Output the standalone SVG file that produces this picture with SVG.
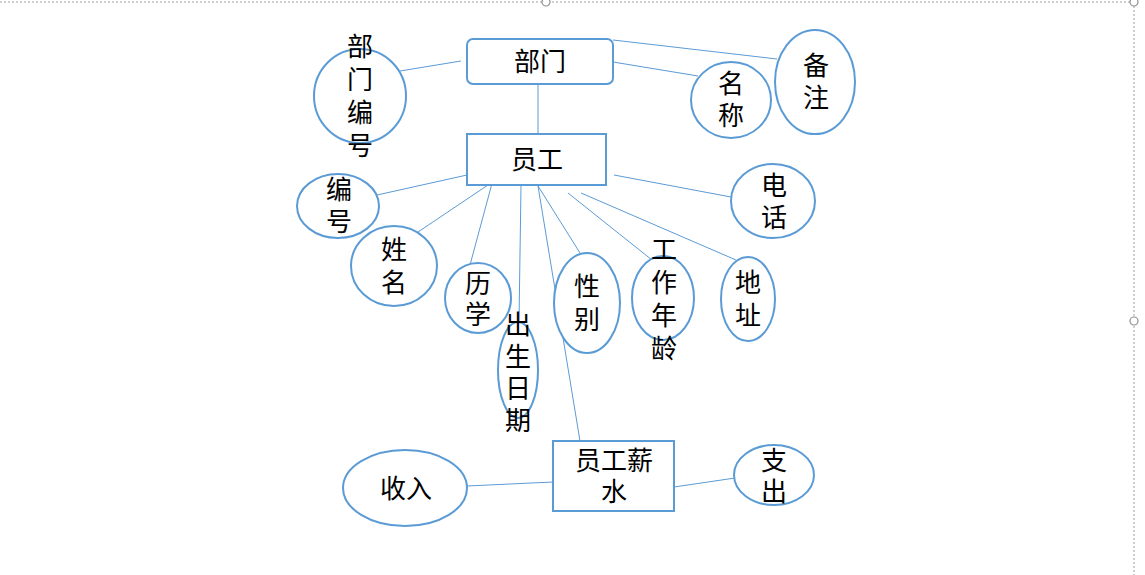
<svg xmlns="http://www.w3.org/2000/svg" width="1145" height="575" viewBox="0 0 1145 575">
<style>
.n{fill:#fff;stroke:#5b9bd5;stroke-width:2}
.c line{stroke:#5b9bd5;stroke-width:1}
text{font-family:"Liberation Sans","Noto Sans CJK SC",sans-serif;font-size:26px;fill:#000;text-anchor:middle;dominant-baseline:central}
.sel{fill:none;stroke:#a0a0a0;stroke-width:1;stroke-dasharray:2 2}
.h{fill:#fff;stroke:#909090;stroke-width:1.2}
</style>
<rect width="1145" height="575" fill="#fff"/>
<line class="sel" x1="0" y1="2" x2="1134" y2="2"/>
<line class="sel" x1="1134" y1="2" x2="1134" y2="575"/>
<circle class="h" cx="546" cy="2" r="4"/>
<circle class="h" cx="1134" cy="2" r="4"/>
<circle class="h" cx="1134" cy="321" r="4"/>
<g class="c">
<line x1="400" y1="71" x2="461" y2="61"/>
<line x1="538" y1="84" x2="538" y2="134"/>
<line x1="613" y1="40" x2="777" y2="59"/>
<line x1="613" y1="62" x2="698" y2="76"/>
<line x1="377" y1="195" x2="467" y2="175"/>
<line x1="418" y1="232" x2="488" y2="185"/>
<line x1="470" y1="265" x2="494" y2="176"/>
<line x1="521" y1="186" x2="519" y2="322"/>
<line x1="538" y1="186" x2="580" y2="253"/>
<line x1="538" y1="186" x2="580" y2="441"/>
<line x1="568" y1="193" x2="652" y2="260"/>
<line x1="581" y1="193" x2="736" y2="260"/>
<line x1="614" y1="175" x2="731" y2="197"/>
<line x1="467" y1="486" x2="553" y2="482"/>
<line x1="674" y1="487" x2="735" y2="478"/>
</g>
<g id="bumen"><rect class="n" x="467" y="39" width="146" height="45" rx="6"/><text x="540" y="62">部门</text></g>
<g id="yuangong"><rect class="n" x="467" y="134" width="139" height="51"/><text x="537" y="160">员工</text></g>
<g id="xinshui"><rect class="n" x="553" y="441" width="121" height="70"/><text x="614" y="461">员工薪</text><text x="614" y="492">水</text></g>
<g id="bumenbianhao"><ellipse class="n" cx="360" cy="96" rx="46" ry="47"/><text x="360" y="47">部</text><text x="360" y="80">门</text><text x="360" y="113">编</text><text x="360" y="146">号</text></g>
<g id="bianhao"><ellipse class="n" cx="338" cy="206" rx="41" ry="32"/><text x="339" y="190">编</text><text x="339" y="222">号</text></g>
<g id="xingming"><ellipse class="n" cx="394" cy="266" rx="43" ry="40"/><text x="394" y="250">姓</text><text x="394" y="283">名</text></g>
<g id="lixue"><ellipse class="n" cx="478" cy="298" rx="33" ry="35"/><text x="478" y="284">历</text><text x="478" y="315">学</text></g>
<g id="chushengriqi"><ellipse class="n" cx="518" cy="370" rx="20" ry="48"/><text x="518" y="325">出</text><text x="518" y="357">生</text><text x="518" y="389">日</text><text x="518" y="421">期</text></g>
<g id="xingbie"><ellipse class="n" cx="587" cy="303" rx="33" ry="50"/><text x="587" y="287">性</text><text x="587" y="320">别</text></g>
<g id="gongzuonianling"><ellipse class="n" cx="663" cy="298" rx="31" ry="42"/><text x="664" y="250">工</text><text x="664" y="283">作</text><text x="664" y="316">年</text><text x="664" y="349">龄</text></g>
<g id="dizhi"><ellipse class="n" cx="748" cy="299" rx="27" ry="42"/><text x="748" y="283">地</text><text x="748" y="316">址</text></g>
<g id="dianhua"><ellipse class="n" cx="773" cy="201" rx="42" ry="37"/><text x="774" y="186">电</text><text x="774" y="218">话</text></g>
<g id="mingcheng"><ellipse class="n" cx="731" cy="100" rx="40" ry="38"/><text x="731" y="84">名</text><text x="731" y="116">称</text></g>
<g id="beizhu"><ellipse class="n" cx="815" cy="82" rx="40" ry="52"/><text x="816" y="66">备</text><text x="816" y="98">注</text></g>
<g id="shouru"><ellipse class="n" cx="405" cy="488" rx="62" ry="38"/><text x="406" y="489">收入</text></g>
<g id="zhichu"><ellipse class="n" cx="774" cy="475" rx="40" ry="30"/><text x="774" y="461">支</text><text x="774" y="492">出</text></g>
</svg>
